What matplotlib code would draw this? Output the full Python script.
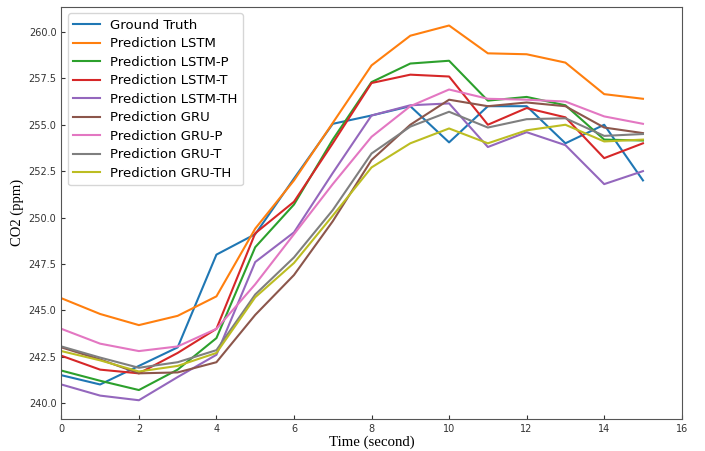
import numpy as np
import matplotlib
matplotlib.use("Agg")
import matplotlib.pyplot as plt

# time steps (seconds)
time = list(range(16))

ground_truth = [241.5, 241.0, 242.0, 243.0, 248.0, 249.1, 252.1, 255.05, 255.5, 256.0,
                254.05, 256.0, 256.0, 254.0, 255.0, 252.0]
pred_lstm = [245.65, 244.8, 244.2, 244.7, 245.75, 249.4, 252.0, 255.1, 258.2, 259.8,
             260.35, 258.85, 258.8, 258.35, 256.65, 256.4]
pred_lstm_p = [241.75, 241.2, 240.7, 241.8, 243.5, 248.4, 250.7, 254.2, 257.3, 258.3,
               258.45, 256.3, 256.5, 256.05, 254.2, 254.15]
pred_lstm_t = [242.55, 241.8, 241.6, 242.7, 244.0, 249.15, 250.85, 254.0, 257.25, 257.7,
               257.6, 255.0, 255.9, 255.4, 253.2, 254.0]
pred_lstm_th = [241.0, 240.4, 240.15, 241.4, 242.6, 247.6, 249.2, 252.4, 255.5, 256.05,
                256.15, 253.8, 254.6, 253.9, 251.8, 252.5]
pred_gru = [243.0, 242.35, 241.6, 241.65, 242.2, 244.75, 246.9, 249.8, 253.1, 255.0,
            256.35, 256.0, 256.2, 256.0, 254.85, 254.55]
pred_gru_p = [244.0, 243.2, 242.8, 243.05, 244.0, 246.4, 249.1, 251.8, 254.35, 256.0,
              256.9, 256.4, 256.35, 256.25, 255.45, 255.05]
pred_gru_t = [243.05, 242.45, 241.9, 242.2, 242.85, 245.85, 247.85, 250.4, 253.45, 254.9,
              255.7, 254.85, 255.3, 255.35, 254.4, 254.5]
pred_gru_th = [242.8, 242.3, 241.7, 242.0, 242.7, 245.7, 247.55, 250.1, 252.7, 254.0,
               254.8, 254.0, 254.7, 255.0, 254.1, 254.2]

labels = ['Ground Truth', 'Prediction LSTM', 'Prediction LSTM-P', 'Prediction LSTM-T',
          'Prediction LSTM-TH', 'Prediction GRU', 'Prediction GRU-P', 'Prediction GRU-T',
          'Prediction GRU-TH']
series = [ground_truth, pred_lstm, pred_lstm_p, pred_lstm_t, pred_lstm_th,
          pred_gru, pred_gru_p, pred_gru_t, pred_gru_th]

fig, ax = plt.subplots(figsize=(7.05, 4.51), dpi=100)
fig.subplots_adjust(left=0.087, right=0.967, top=0.985, bottom=0.071)

for values, label in zip(series, labels):
    ax.plot(time, values, label=label, linewidth=1.5)

ax.set_xlim(0, 16)
ax.set_xticks(range(0, 17, 2))
ax.yaxis.set_major_formatter(matplotlib.ticker.FormatStrFormatter('%.1f'))
ax.tick_params(direction='in', labelsize=7, colors='#333333', length=3)
for spine in ax.spines.values():
    spine.set_color('#555555')

ax.set_xlabel('Time (second)', family='Liberation Serif', fontsize=10.7, labelpad=1)
ax.set_ylabel('CO2 (ppm)', family='Liberation Serif', fontsize=10.5, labelpad=3)
ax.legend(loc='upper left', fontsize=9.5, handlelength=2.0, labelspacing=0.42)

plt.savefig('out.png', dpi=100)
